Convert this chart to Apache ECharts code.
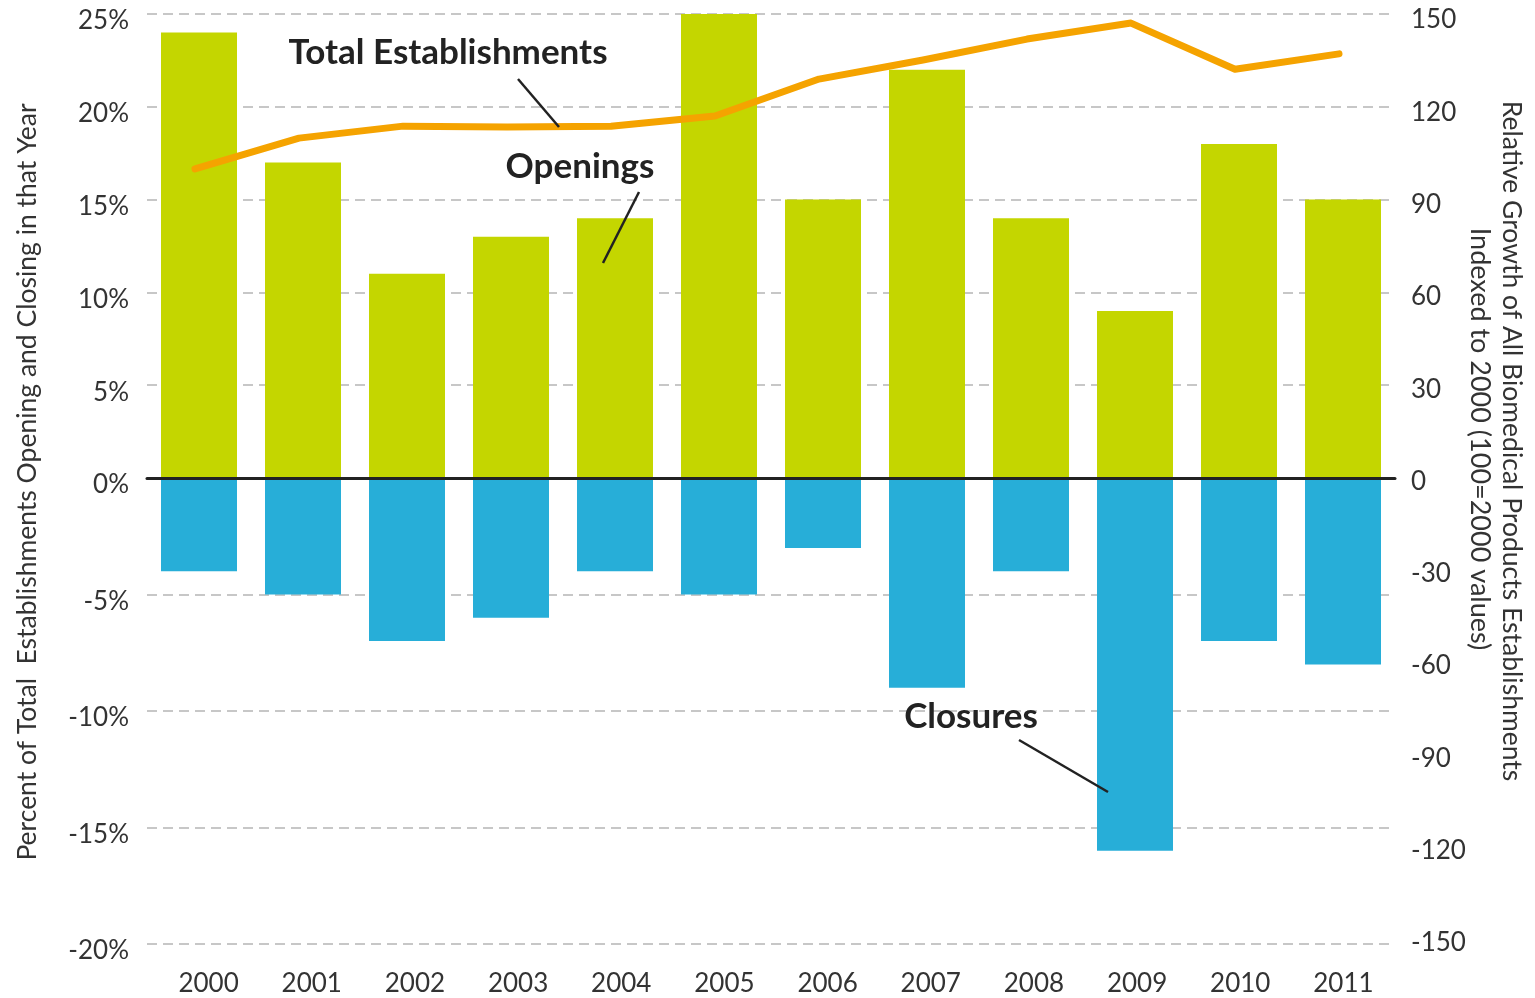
<!DOCTYPE html>
<html><head><meta charset="utf-8">
<script src="https://cdn.jsdelivr.net/npm/echarts@6/dist/echarts.min.js"></script>
<style>html,body{margin:0;padding:0;background:#fff}#c{width:1535px;height:998px}</style>
</head><body><div id="c"></div>
<script>
const years = ['2000','2001','2002','2003','2004','2005','2006','2007','2008','2009','2010','2011'];
const openings = [24, 17, 11, 13, 14, 25, 15, 22, 14, 9, 18, 15];
const closures = [-4, -5, -7, -6, -4, -5, -3, -9, -4, -16, -7, -8];
const totalIndex = [101.6, 111.6, 115.5, 115.2, 115.5, 118.8, 130.8, 137, 143.8, 149, 134, 139];
const leftPosRange = [0, 25];
const leftNegRange = [-20, 0];
const rightRange = [-150, 150];

const FONT = 'Lato, "Liberation Sans", sans-serif';
const TXT = '#333';
const dash = {type: [10, 6], color: '#b5b5b5', width: 1.5};
const tickLabel = {fontSize: 26, color: TXT, fontFamily: FONT};

const chart = echarts.init(document.getElementById('c'));
chart.setOption({
  animation: false,
  grid: [
    {left: 147, right: 140, top: 14, height: 464},
    {left: 147, right: 140, top: 478, height: 466},
    {left: 143, right: 144, top: 20, height: 923},
    {left: 157, right: 140, top: 0, height: 960}
  ],
  xAxis: [
    {gridIndex: 0, type: 'category', data: years, z: 10,
     axisLine: {show: true, lineStyle: {color: '#222', width: 3}},
     axisTick: {show: false}, axisLabel: {show: false}},
    {gridIndex: 1, type: 'category', data: years, show: false},
    {gridIndex: 2, type: 'category', data: years, show: false},
    {gridIndex: 3, type: 'category', data: years,
     axisLine: {show: false}, axisTick: {show: false},
     axisLabel: Object.assign({margin: 11}, tickLabel)}
  ],
  yAxis: [
    {gridIndex: 0, type: 'value', min: leftPosRange[0], max: leftPosRange[1], interval: 5,
     axisLine: {show: false}, axisTick: {show: false}, splitLine: {lineStyle: dash},
     axisLabel: Object.assign({margin: 18, verticalAlign: 'top', lineHeight: 14, formatter: v => v + '%'}, tickLabel)},
    {gridIndex: 1, type: 'value', min: leftNegRange[0], max: leftNegRange[1], interval: 5,
     axisLine: {show: false}, axisTick: {show: false}, splitLine: {lineStyle: dash},
     axisLabel: Object.assign({margin: 18, verticalAlign: 'top', lineHeight: 14, formatter: v => v === 0 ? '' : v + '%'}, tickLabel)},
    {gridIndex: 2, type: 'value', position: 'right', min: rightRange[0], max: rightRange[1], interval: 30,
     axisLine: {show: false}, axisTick: {show: false}, splitLine: {show: false},
     axisLabel: Object.assign({margin: 20, align: 'left'}, tickLabel)},
    {gridIndex: 3, type: 'value', show: false}
  ],
  series: [
    {type: 'bar', name: 'Openings', xAxisIndex: 0, yAxisIndex: 0, data: openings, barWidth: 76,
     itemStyle: {color: '#c4d600'}},
    {type: 'bar', name: 'Closures', xAxisIndex: 1, yAxisIndex: 1, data: closures, barWidth: 76,
     itemStyle: {color: '#27aed8'}},
    {type: 'line', name: 'Total Establishments', xAxisIndex: 2, yAxisIndex: 2, data: totalIndex,
     symbol: 'none', z: 5, lineStyle: {color: '#f5a300', width: 7, cap: 'round', join: 'round'}}
  ],
  graphic: [
    {type: 'text', x: 27, y: 482, rotation: Math.PI / 2, z: 100,
     style: {text: 'Percent of Total  Establishments Opening and Closing in that Year', fontSize: 26.5, fontFamily: FONT, fill: TXT, align: 'center', verticalAlign: 'middle'}},
    {type: 'text', x: 1512, y: 441, rotation: -Math.PI / 2, z: 100,
     style: {text: 'Relative Growth of All Biomedical Products Establishments', fontSize: 26.5, fontFamily: FONT, fill: TXT, align: 'center', verticalAlign: 'middle'}},
    {type: 'text', x: 1480, y: 439, rotation: -Math.PI / 2, z: 100,
     style: {text: 'Indexed to 2000 (100=2000 values)', fontSize: 27, fontFamily: FONT, fill: TXT, align: 'center', verticalAlign: 'middle'}},
    {type: 'text', x: 448, y: 53, z: 100,
     style: {text: 'Total Establishments', fontSize: 35, fontWeight: 'bold', fontFamily: FONT, fill: '#222', align: 'center', verticalAlign: 'middle'}},
    {type: 'text', x: 580, y: 167, z: 100,
     style: {text: 'Openings', fontSize: 35, fontWeight: 'bold', fontFamily: FONT, fill: '#222', align: 'center', verticalAlign: 'middle'}},
    {type: 'text', x: 971, y: 717, z: 100,
     style: {text: 'Closures', fontSize: 35, fontWeight: 'bold', fontFamily: FONT, fill: '#222', align: 'center', verticalAlign: 'middle'}},
    {type: 'line', z: 100, shape: {x1: 518, y1: 79, x2: 559, y2: 127}, style: {stroke: '#222', lineWidth: 2.5}},
    {type: 'line', z: 100, shape: {x1: 639, y1: 192, x2: 603, y2: 263}, style: {stroke: '#222', lineWidth: 2.5}},
    {type: 'line', z: 100, shape: {x1: 1019, y1: 740, x2: 1108, y2: 792}, style: {stroke: '#222', lineWidth: 2.5}}
  ]
});
</script>
</body></html>
